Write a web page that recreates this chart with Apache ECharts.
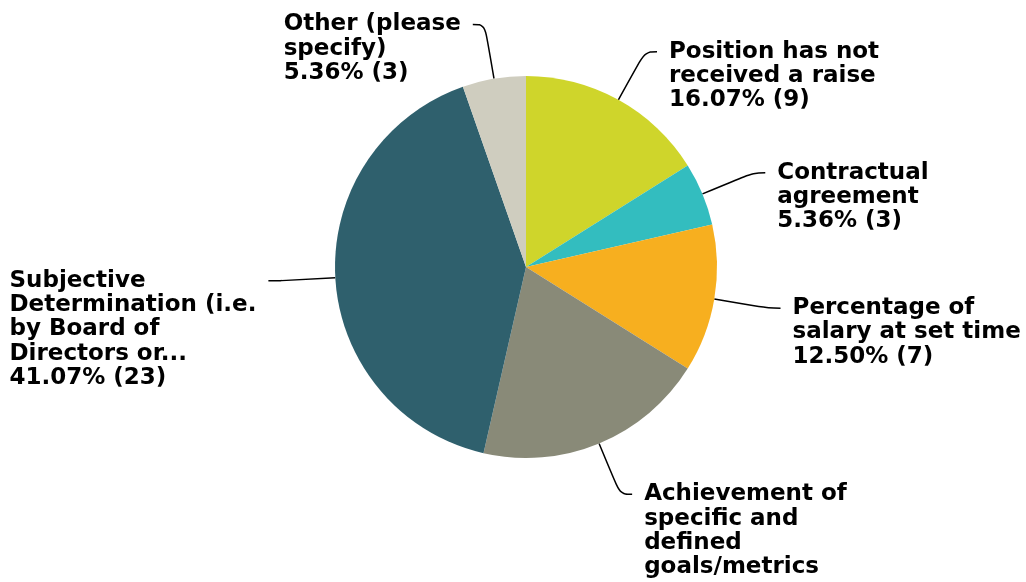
<!DOCTYPE html>
<html>
<head>
<meta charset="utf-8">
<style>
  html, body { margin: 0; padding: 0; background: #fff; }
  #chart { width: 1026px; height: 578px; }
</style>
<script src="https://cdn.jsdelivr.net/npm/echarts@6/dist/echarts.min.js"></script>
</head>
<body>
<div id="chart"></div>
<script>
// answer choices, clockwise from 12 o'clock
var categories = [
    'Position has not received a raise',
    'Contractual agreement',
    'Percentage of salary at set time',
    'Achievement of specific and defined goals/metrics',
    'Subjective Determination (i.e. by Board of Directors or...',
    'Other (please specify)'
];
// wrapped label text as shown on the chart
var labelLines = [
    ['Position has not', 'received a raise'],
    ['Contractual', 'agreement'],
    ['Percentage of', 'salary at set time'],
    ['Achievement of', 'specific and', 'defined', 'goals/metrics'],
    ['Subjective', 'Determination (i.e.', 'by Board of', 'Directors or...'],
    ['Other (please', 'specify)']
];
var counts = [9, 3, 7, 11, 23, 3];
var colors = ['#cfd52b', '#33bdbf', '#f7af1f', '#898a78', '#2f606d', '#cfcdbf'];

var LINE_H = 24.3;
var total = counts.reduce(function (a, b) { return a + b; }, 0);

var pieData = categories.map(function (name, i) {
    return {
        name: name,
        value: counts[i],
        itemStyle: { color: colors[i] }
    };
});

var chart = echarts.init(document.getElementById('chart'));
chart.setOption({
    animation: false,
    series: [
        {
            type: 'pie',
            center: [526, 267],
            radius: 191,
            startAngle: 90,
            avoidLabelOverlap: false,
            itemStyle: { borderWidth: 0 },
            label: {
                show: true,
                color: '#000',
                fontFamily: 'DejaVu Sans',
                fontWeight: 'bold',
                fontSize: 23,
                lineHeight: LINE_H,
                distanceToLabelLine: 12,
                formatter: function (p) {
                    var i = p.dataIndex;
                    var pct = (counts[i] / total * 100).toFixed(2);
                    return labelLines[i].join('\n') + '\n' + pct + '% (' + counts[i] + ')';
                }
            },
            labelLine: {
                show: true,
                length: 55,
                length2: 12,
                smooth: 0.4,
                lineStyle: { color: '#000', width: 1.5 }
            },
            labelLayout: function (params) {
                // leader line meets the first text line; text always left-aligned
                var pts = params.labelLinePoints;
                return {
                    x: params.labelRect.x,
                    y: pts[pts.length - 1][1] - LINE_H / 2,
                    align: 'left',
                    verticalAlign: 'top',
                    labelLinePoints: pts
                };
            },
            emphasis: { disabled: true },
            data: pieData
        }
    ]
});
</script>
</body>
</html>
